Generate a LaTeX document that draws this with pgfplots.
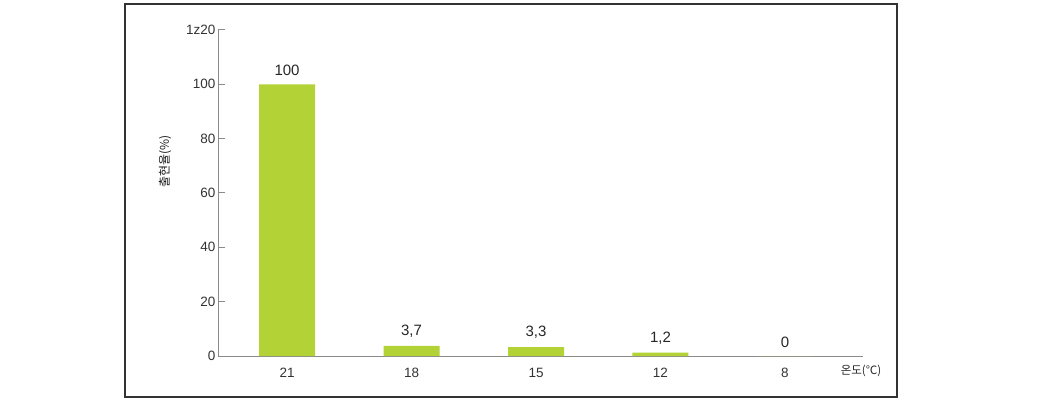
\documentclass[border=0pt]{standalone}
\usepackage{fontspec}
\setmainfont{Liberation Sans}
\newfontfamily\kr{Noto Sans CJK KR}
\usepackage{pgfplots}
\pgfplotsset{compat=1.18}
\definecolor{bargreen}{HTML}{B3D235}
\definecolor{axisgrey}{HTML}{8A8A8A}

\begin{document}
\begin{tikzpicture}[x=1pt,y=1pt]
\useasboundingbox (0,0) rectangle (1063,402);
\draw[black!80, line width=1.2pt] (125,5) rectangle (897,398);
\begin{axis}[
    at={(218pt,46pt)}, anchor=south west,
    scale only axis,
    width=645pt, height=326pt,
    xmin=-0.555, xmax=4.627,
    ymin=0, ymax=120,
    axis x line=bottom, axis y line=left,
    axis line style={-, axisgrey, line width=1pt},
    xtick={0,1,2,3,4},
    xticklabels={21,18,15,12,8},
    ytick={0,20,40,60,80,100,120},
    yticklabels={0,20,40,60,80,100,1z20},
    major x tick style={draw=none},
    major y tick style={axisgrey, line width=1pt},
    tick align=inside,
    major tick length=7pt,
    ticklabel style={font=\fontsize{13.5}{15}\selectfont, text=black!80},
    yticklabel style={xshift=1pt},
    xticklabel style={yshift=-2pt},
    ybar, bar width=56pt,
    nodes near coords,
    point meta=explicit symbolic,
    every node near coord/.append style={font=\fontsize{15}{17}\selectfont, text=black!85, yshift=5pt},
    clip=false,
]
\addplot[fill=bargreen, draw=none] coordinates {
    (0,100) [100]
    (1,3.7) [3,7]
    (2,3.3) [3,3]
    (3,1.2) [1,2]
    (4,0) [0]
};
\node[rotate=90, font=\kr\fontsize{12}{13}\selectfont, text=black!90] at (axis cs:-0.98,71.5) {출현율(\%)};
\node[anchor=west, font=\kr\fontsize{11.5}{12}\selectfont, text=black!85] at (axis cs:4.42,-5.6) {온도(℃)};
\end{axis}
\end{tikzpicture}
\end{document}
